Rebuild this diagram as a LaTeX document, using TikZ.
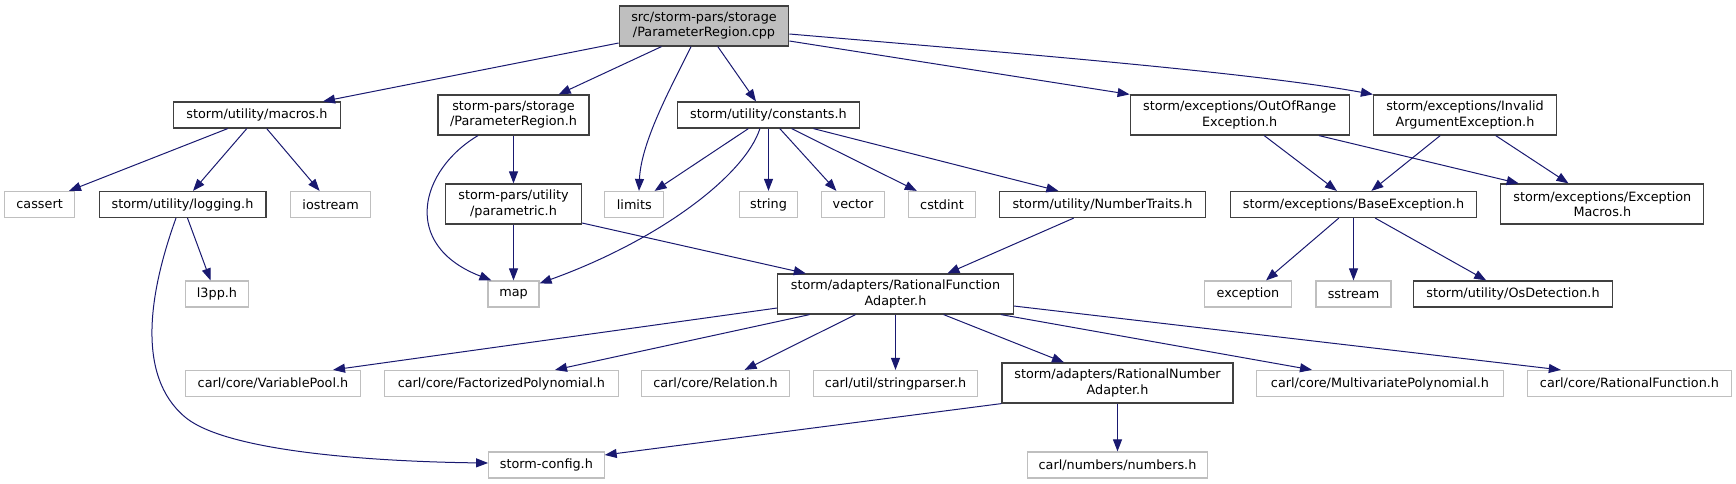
\documentclass[tikz,border=0pt]{standalone}
\usepackage{fontspec}
\setmainfont{DejaVu Sans}
\usetikzlibrary{arrows.meta,calc}
\definecolor{edgecol}{HTML}{191970}
\definecolor{docborder}{HTML}{404040}
\definecolor{undocborder}{HTML}{BFBFBF}
\definecolor{rootfill}{HTML}{BFBFBF}
\begin{document}
\begin{tikzpicture}[x=1pt,y=-1pt,
  font=\fontsize{12.8}{15.2}\selectfont,
  doc/.style={draw=docborder, line width=1.2pt, inner sep=0pt, minimum height=26pt, align=center},
  undoc/.style={draw=undocborder, line width=1.2pt, inner sep=0pt, minimum height=26pt, align=center},
  tall/.style={minimum height=40pt},
  rootnode/.style={doc, tall, fill=rootfill},
  edge/.style={draw=edgecol, line width=1pt, -{Triangle[length=12pt,width=9pt]}}
]
\useasboundingbox (0,0) rectangle (1736,484);

% row 0
\node[rootnode, minimum width=169.5pt] (root) at (704,26) {src/storm-pars/storage\\/ParameterRegion.cpp};
% row 1
\node[doc, minimum width=166.5pt] (macros) at (257,115) {storm/utility/macros.h};
\node[doc, tall, minimum width=151pt] (pregion) at (513.5,115) {storm-pars/storage\\/ParameterRegion.h};
\node[doc, minimum width=181.8pt] (constants) at (768.5,115) {storm/utility/constants.h};
\node[doc, tall, minimum width=219pt] (outofrange) at (1239.7,115) {storm/exceptions/OutOfRange\\Exception.h};
\node[doc, tall, minimum width=183pt] (invalid) at (1465,115) {storm/exceptions/Invalid\\ArgumentException.h};
% row 2
\node[undoc, minimum width=70pt] (cassert) at (39.6,204.5) {cassert};
\node[doc, minimum width=166.8pt] (logging) at (182.5,204.5) {storm/utility/logging.h};
\node[undoc, minimum width=80.4pt] (iostream) at (330.6,204.5) {iostream};
\node[doc, tall, minimum width=136pt] (parametric) at (513.5,204) {storm-pars/utility\\/parametric.h};
\node[undoc, minimum width=59pt] (limits) at (634.3,204.5) {limits};
\node[undoc, minimum width=58.5pt] (string) at (768.5,204.5) {string};
\node[undoc, minimum width=63pt] (vector) at (853,204.5) {vector};
\node[undoc, minimum width=67.7pt] (cstdint) at (942,204.5) {cstdint};
\node[doc, minimum width=205.5pt] (numtraits) at (1102.5,204.5) {storm/utility/NumberTraits.h};
\node[doc, minimum width=246.5pt] (baseexc) at (1353.5,204.5) {storm/exceptions/BaseException.h};
\node[doc, tall, minimum width=203pt] (excmacros) at (1602.3,204) {storm/exceptions/Exception\\Macros.h};
% row 3
\node[undoc, minimum width=63pt] (l3pp) at (217,294) {l3pp.h};
\node[undoc, minimum width=51pt] (map) at (513.5,294) {map};
\node[doc, tall, minimum width=235.4pt] (rfa) at (895.5,294) {storm/adapters/RationalFunction\\Adapter.h};
\node[undoc, minimum width=87pt] (exception) at (1248,294) {exception};
\node[undoc, minimum width=75pt] (sstream) at (1353.5,294) {sstream};
\node[doc, minimum width=199.4pt] (osdet) at (1513,294) {storm/utility/OsDetection.h};
% row 4
\node[undoc, minimum width=175pt] (varpool) at (273,383.5) {carl/core/VariablePool.h};
\node[undoc, minimum width=233.7pt] (factpoly) at (501.4,383.5) {carl/core/FactorizedPolynomial.h};
\node[undoc, minimum width=148.5pt] (relation) at (715.5,383.5) {carl/core/Relation.h};
\node[undoc, minimum width=164.2pt] (stringparser) at (895.5,383.5) {carl/util/stringparser.h};
\node[doc, tall, minimum width=231pt] (rna) at (1117.5,383) {storm/adapters/RationalNumber\\Adapter.h};
\node[undoc, minimum width=246.8pt] (multipoly) at (1380,383.5) {carl/core/MultivariatePolynomial.h};
\node[undoc, minimum width=204pt] (ratfunc) at (1629.5,383.5) {carl/core/RationalFunction.h};
% row 5
\node[undoc, minimum width=115.4pt] (stormconfig) at (546.4,465) {storm-config.h};
\node[undoc, minimum width=180pt] (numbers) at (1117.5,465) {carl/numbers/numbers.h};

% edges from root
\draw[edge] ($(root.west)+(0,17)$) -- ($(macros.north)+(66,0)$);
\draw[edge] ($(root.south)+(-42.5,0)$) -- ($(pregion.north)+(45.2,0)$);
\draw[edge] ($(root.south)+(-13,0)$) .. controls (675,80) and (641,140) .. ($(limits.north)+(4.7,0)$);
\draw[edge] ($(root.south)+(13.8,0)$) -- ($(constants.north)+(-12.5,0)$);
\draw[edge] ($(root.east)+(0,15)$) -- (outofrange.north west);
\draw[edge] ($(root.east)+(0,8)$) .. controls (1000,52) and (1250,72) .. (invalid.north west);

% macros
\draw[edge] ($(macros.south)+(-29.3,0)$) -- ($(cassert.north)+(29.4,0)$);
\draw[edge] ($(macros.south)+(-10.2,0)$) -- ($(logging.north)+(10.5,0)$);
\draw[edge] ($(macros.south)+(9.7,0)$) -- ($(iostream.north)+(-11,0)$);

% pregion
\draw[edge] (pregion.south) -- (parametric.north);
\draw[edge] ($(pregion.south)+(-35.5,0)$) .. controls (420,170) and (400,245) .. ($(map.north west)+(4,0)$);

% parametric
\draw[edge] (parametric.south) -- (map.north);
\draw[edge] ($(parametric.east)+(0,19)$) -- ($(rfa.north)+(-89.7,0)$);

% constants
\draw[edge] ($(constants.south)+(-20.1,0)$) -- ($(limits.north)+(20.3,0)$);
\draw[edge] ($(constants.south)+(-8.6,0)$) .. controls (745,175) and (660,240) .. ($(map.north east)+(0,3)$);
\draw[edge] (constants.south) -- (string.north);
\draw[edge] ($(constants.south)+(11.3,0)$) -- ($(vector.north)+(-16.6,0)$);
\draw[edge] ($(constants.south)+(23.1,0)$) -- ($(cstdint.north)+(-25.2,0)$);
\draw[edge] ($(constants.south)+(44.9,0)$) -- ($(numtraits.north)+(-44.1,0)$);

% numtraits
\draw[edge] ($(numtraits.south)+(-28.8,0)$) -- ($(rfa.north)+(51.9,0)$);

% exceptions
\draw[edge] ($(outofrange.south)+(24.5,0)$) -- ($(baseexc.north)+(-16.6,0)$);
\draw[edge] ($(outofrange.south)+(79.2,0)$) -- ($(excmacros.north)+(-83.6,0)$);
\draw[edge] ($(invalid.south)+(-24.8,0)$) -- ($(baseexc.north)+(17.9,0)$);
\draw[edge] ($(invalid.south)+(30.7,0)$) -- ($(excmacros.north)+(-33.8,0)$);
\draw[edge] ($(baseexc.south)+(-14.7,0)$) -- ($(exception.north)+(18,0)$);
\draw[edge] (baseexc.south) -- (sstream.north);
\draw[edge] ($(baseexc.south)+(21.7,0)$) -- ($(osdet.north)+(-26.8,0)$);

% logging
\draw[edge] ($(logging.south)+(5,0)$) -- ($(l3pp.north)+(-6.5,0)$);
\draw[edge] ($(logging.south)+(-6.5,0)$) .. controls (150,290) and (135,375) .. (185,417)
  .. controls (230,455) and (400,462) .. ($(stormconfig.west)+(0,-2)$);

% rational function adapter
\draw[edge] ($(rfa.west)+(0,14)$) -- ($(varpool.north)+(60,0)$);
\draw[edge] ($(rfa.south)+(-85.9,0)$) -- ($(factpoly.north)+(53.6,0)$);
\draw[edge] ($(rfa.south)+(-40,0)$) -- ($(relation.north)+(29.1,0)$);
\draw[edge] (rfa.south) -- (stringparser.north);
\draw[edge] ($(rfa.south)+(48.1,0)$) -- ($(rna.north)+(-53.5,0)$);
\draw[edge] ($(rfa.south)+(105.5,0)$) -- ($(multipoly.north)+(-68,0)$);
\draw[edge] ($(rfa.east)+(0,12)$) -- ($(ratfunc.north)+(-68.7,0)$);

% rational number adapter
\draw[edge] (rna.south west) -- ($(stormconfig.east)+(0,-10)$);
\draw[edge] (rna.south) -- (numbers.north);
\end{tikzpicture}
\end{document}
